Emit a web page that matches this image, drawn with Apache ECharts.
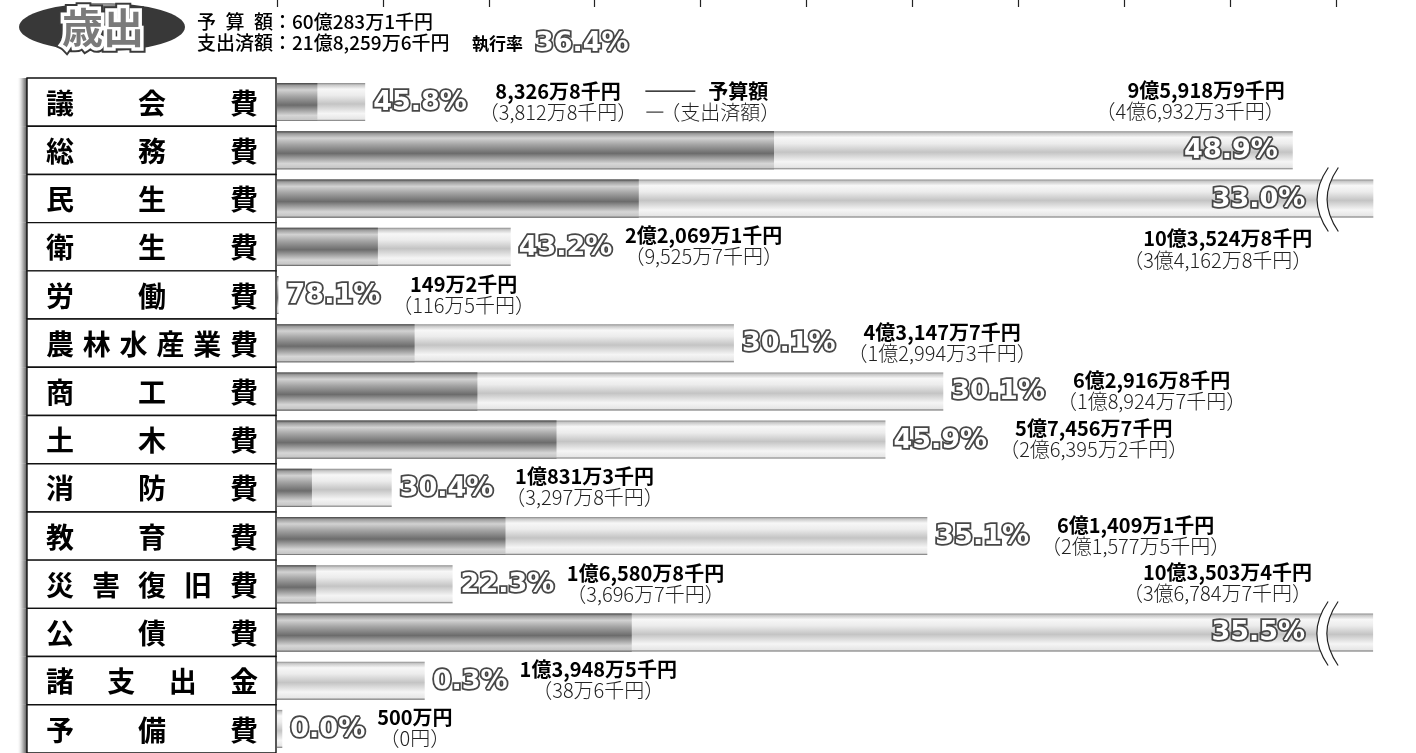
<!DOCTYPE html>
<html>
<head>
<meta charset="utf-8">
<script src="https://cdn.jsdelivr.net/npm/echarts@6/dist/echarts.min.js"></script>
<style>
html,body{margin:0;padding:0;background:#fff;}
#c{width:1416px;height:753px;}
</style>
</head>
<body>
<div id="c"></div>
<script>
// ---- data (amounts in 億円; bar lengths) ----
const categories = ['議会費','総務費','民生費','衛生費','労働費','農林水産業費','商工費','土木費','消防費','教育費','災害復旧費','公債費','諸支出金','予備費'];
const budget = [0.83268, 9.59189, 10.35248, 2.20691, 0.01492, 4.31477, 6.29168, 5.74567, 1.08313, 6.14091, 1.65808, 10.35034, 1.39485, 0.05];
const spent  = [0.38128, 4.69323, 3.41628, 0.95257, 0.01165, 1.29943, 1.89247, 2.63952, 0.32978, 2.15775, 0.36967, 3.35, 0.00386, 0];
const rates  = ['45.8%','48.9%','33.0%','43.2%','78.1%','30.1%','30.1%','45.9%','30.4%','35.1%','22.3%','35.5%','0.3%','0.0%'];
const budgetText = ['8,326万8千円','9億5,918万9千円','10億3,524万8千円','2億2,069万1千円','149万2千円','4億3,147万7千円','6億2,916万8千円','5億7,456万7千円','1億831万3千円','6億1,409万1千円','1億6,580万8千円','10億3,503万4千円','1億3,948万5千円','500万円'];
const spentText = ['（3,812万8千円）','（4億6,932万3千円）','（3億4,162万8千円）','（9,525万7千円）','（116万5千円）','（1億2,994万3千円）','（1億8,924万7千円）','（2億6,395万2千円）','（3,297万8千円）','（2億1,577万5千円）','（3,696万7千円）','（3億6,784万7千円）','（38万6千円）','（0円）'];
const tickValues = [0,1,2,3,4,5,6,7,8,9,10];
const titleText = '歳出';
const headerBudgetLabel = '予算額';
const headerSpentLabel = '支出済額';
const headerBudgetValue = '：60億283万1千円';
const headerSpentValue = '：21億8,259万6千円';
const headerRateLabel = '執行率';
const headerRate = '36.4%';
const legendBudget = '予算額';
const legendSpent = '（支出済額）';

// ---- styling / layout constants ----
const X_MAX = 10.4, PX_PER = 105.9;
const INSIDE_AT = 9, BREAK_AT = 10;
const PCT_FAMILY = '"DejaVu Sans", "Liberation Sans", sans-serif';
const JP_FAMILY = '"Noto Sans CJK JP", sans-serif';

const mctx = document.createElement('canvas').getContext('2d');
function tw(t, font){ mctx.font = font; return mctx.measureText(t).width; }

function txt(text, x, y, font, fill, align, valign, extra){
  const s = Object.assign({text:text, x:x, y:y, font:font, fill:fill,
    align:align, textAlign:align, verticalAlign:valign, textVerticalAlign:valign}, extra||{});
  return {type:'text', style:s};
}

function renderCat(params, api){
  const i = api.value(1);
  const p = api.coord([0, i]);
  const h = api.size([0, 1])[1];
  const right = p[0] - 1, left = right - 249, top = p[1] - h/2;
  const chars = Array.from(categories[i]);
  const first = left + 33, last = right - 32;
  const step = chars.length > 1 ? (last - first)/(chars.length - 1) : 0;
  const kids = [
    {type:'rect', shape:{x:left-10, y:top, width:10, height:h},
     style:{fill:{type:'linear',x:0,y:0,x2:1,y2:0,colorStops:[{offset:0,color:'rgba(255,255,255,0)'},{offset:0.6,color:'rgba(120,120,120,0.6)'},{offset:1,color:'rgba(60,60,60,0.9)'}]}}},
    {type:'rect', shape:{x:left, y:top, width:right-left, height:h}, style:{fill:'#fff', stroke:'#111', lineWidth:1.4}}
  ];
  chars.forEach((c,k)=>kids.push(txt(c, first + k*step, p[1]+1, 'bold 28px ' + JP_FAMILY, '#000', 'center', 'middle')));
  return {type:'group', children:kids};
}

function renderAnno(params, api){
  const i = api.value(1);
  const b = budget[i];
  const ep = api.coord([b, i]);
  const end = ep[0], cy = ep[1];
  const kids = [];
  const pctFont = 'bold 27px ' + PCT_FAMILY;
  const pw = tw(rates[i], pctFont);
  const inside = b >= INSIDE_AT, broken = b >= BREAK_AT;
  const pctRight = inside ? (broken ? end - 68 : end - 15) : end + 8 + pw;
  if (broken) {
    const bx = end - 56, t = cy - 31, bt = cy + 33, a = 11, g = 10;
    const L = `M${bx+a} ${t} C${bx-4} ${t+22} ${bx-4} ${bt-22} ${bx+a} ${bt}`;
    const R = `M${bx+a+g} ${t} C${bx-4+g} ${t+22} ${bx-4+g} ${bt-22} ${bx+a+g} ${bt}`;
    const F = `M${bx+a} ${t} C${bx-4} ${t+22} ${bx-4} ${bt-22} ${bx+a} ${bt} L${bx+a+g} ${bt} C${bx-4+g} ${bt-22} ${bx-4+g} ${t+22} ${bx+a+g} ${t} Z`;
    kids.push({type:'path', shape:{pathData:F}, style:{fill:'#fff', stroke:null}});
    kids.push({type:'path', shape:{pathData:L}, style:{fill:null, stroke:'#222', lineWidth:1.2}});
    kids.push({type:'path', shape:{pathData:R}, style:{fill:null, stroke:'#222', lineWidth:1.2}});
  }
  kids.push(txt(rates[i], pctRight, cy+1, pctFont, '#ffffff', 'right', 'middle', {stroke:'#474747', lineWidth:3.6}));
  const f1 = 'bold 20px ' + JP_FAMILY, f2 = '300 20px ' + JP_FAMILY;
  if (inside) {
    const above = i === 0 || budget[i-1] < INSIDE_AT;
    const rx = pctRight + 7;
    const y1 = above ? cy - 60 : cy + 40;
    const y2 = above ? cy - 39 : cy + 62;
    kids.push(txt(budgetText[i], rx, y1, f1, '#000', 'right', 'middle'));
    kids.push(txt(spentText[i], rx, y2, f2, '#222', 'right', 'middle'));
  } else {
    const w1 = tw(budgetText[i], f1), w2 = tw(spentText[i], f2);
    const bw = Math.max(w1, w2);
    const bx = pctRight + 12;
    const mid = bx + bw/2;
    kids.push(txt(budgetText[i], mid, cy-11, f1, '#000', 'center', 'middle'));
    kids.push(txt(spentText[i], mid, cy+10, f2, '#222', 'center', 'middle'));
    if (i === 0) {
      const br = bx + bw;
      kids.push({type:'line', shape:{x1:br+8, y1:cy-11, x2:br+58, y2:cy-11}, style:{stroke:'#000', lineWidth:1.2}});
      kids.push(txt(legendBudget, br+71, cy-11, f1, '#000', 'left', 'middle'));
      kids.push({type:'line', shape:{x1:br+9, y1:cy+10, x2:br+26, y2:cy+10}, style:{stroke:'#333', lineWidth:1.2}});
      kids.push(txt(legendSpent, br+23, cy+10, f2, '#222', 'left', 'middle'));
    }
  }
  return {type:'group', children:kids};
}

const lightGrad = {type:'linear', x:0, y:0, x2:0, y2:1, colorStops:[
  {offset:0, color:'#8a8a8a'}, {offset:0.05, color:'#c8c8c8'}, {offset:0.16, color:'#f7f7f7'},
  {offset:0.32, color:'#ececec'}, {offset:0.55, color:'#c4c4c4'}, {offset:0.8, color:'#f5f5f5'},
  {offset:0.95, color:'#e6e6e6'}, {offset:1, color:'#6a6a6a'}]};
const darkGrad = {type:'linear', x:0, y:0, x2:0, y2:1, colorStops:[
  {offset:0, color:'#444'}, {offset:0.06, color:'#9a9a9a'}, {offset:0.18, color:'#d2d2d2'},
  {offset:0.35, color:'#a4a4a4'}, {offset:0.58, color:'#6c6c6c'}, {offset:0.85, color:'#d6d6d6'},
  {offset:0.96, color:'#c6c6c6'}, {offset:1, color:'#555'}]};

// header: distribute budget label chars over the width of the spent label
const hdrFont = '500 19px ' + JP_FAMILY;
const hdrX = 197;
const hdrLabelW = tw(headerSpentLabel, hdrFont);
const hdrChars = Array.from(headerBudgetLabel);
const hdrCharW = tw(hdrChars[0], hdrFont);
const hdrStep = (hdrLabelW - hdrCharW) / (hdrChars.length - 1);
const headerGraphics = hdrChars.map((c,k)=>({type:'text', x:hdrX + k*hdrStep, y:22,
  style:{text:c, font:hdrFont, fill:'#000', align:'left', textAlign:'left', verticalAlign:'middle', textVerticalAlign:'middle'}}));
const hs = (t, x, y, font, extra) => ({type:'text', x:x, y:y,
  style:Object.assign({text:t, font:font, fill:'#000', align:'left', textAlign:'left', verticalAlign:'middle', textVerticalAlign:'middle'}, extra||{})});
headerGraphics.push(hs(headerBudgetValue, hdrX + hdrLabelW, 22, hdrFont));
headerGraphics.push(hs(headerSpentLabel + headerSpentValue, hdrX, 43, hdrFont));
headerGraphics.push(hs(headerRateLabel, 472, 44, 'bold 17px ' + JP_FAMILY));
headerGraphics.push(hs(headerRate, 535, 44, 'bold 27px ' + PCT_FAMILY, {fill:'#fff', stroke:'#474747', lineWidth:3.6}));

const chart = echarts.init(document.getElementById('c'));
chart.setOption({
  animation:false,
  grid:{left:277, top:78, width:PX_PER*X_MAX, height:14*48.46},
  xAxis:{type:'value', position:'top', min:0, max:X_MAX, interval:1, offset:71,
    axisLine:{show:false}, axisLabel:{show:false}, splitLine:{show:false},
    axisTick:{show:true, length:8, lineStyle:{color:'#222', width:1.2}, customValues:tickValues}},
  yAxis:{type:'category', inverse:true, data:categories,
    axisLine:{show:false}, axisTick:{show:false}, axisLabel:{show:false}, splitLine:{show:false}},
  series:[
    {type:'bar', name:'予算額', data:budget, barWidth:38, itemStyle:{color:lightGrad}, z:2},
    {type:'bar', name:'支出済額', data:spent, barWidth:38, barGap:'-100%', itemStyle:{color:darkGrad}, z:3},
    {type:'custom', renderItem:renderCat, data:categories.map((c,i)=>[0,i]), clip:false, z:4, silent:true},
    {type:'custom', renderItem:renderAnno, data:categories.map((c,i)=>[0,i]), clip:false, z:5, silent:true}
  ],
  graphic:[
    {type:'ellipse', shape:{cx:102, cy:27, rx:83, ry:24},
      style:{fill:{type:'radial', x:0.5, y:0.4, r:0.7, colorStops:[{offset:0,color:'#c4c4c4'},{offset:0.6,color:'#8e8e8e'},{offset:1,color:'#383838'}]}}},
    {type:'text', x:103, y:27, style:{text:titleText, font:'bold 41px ' + JP_FAMILY, fill:'#3a3a3a', stroke:'#3a3a3a', lineWidth:11, align:'center', textAlign:'center', verticalAlign:'middle', textVerticalAlign:'middle'}},
    {type:'text', x:103, y:27, style:{text:titleText, font:'bold 41px ' + JP_FAMILY, fill:'#7a7a7a', stroke:'#fff', lineWidth:7, align:'center', textAlign:'center', verticalAlign:'middle', textVerticalAlign:'middle'}}
  ].concat(headerGraphics)
});
</script>
</body>
</html>
